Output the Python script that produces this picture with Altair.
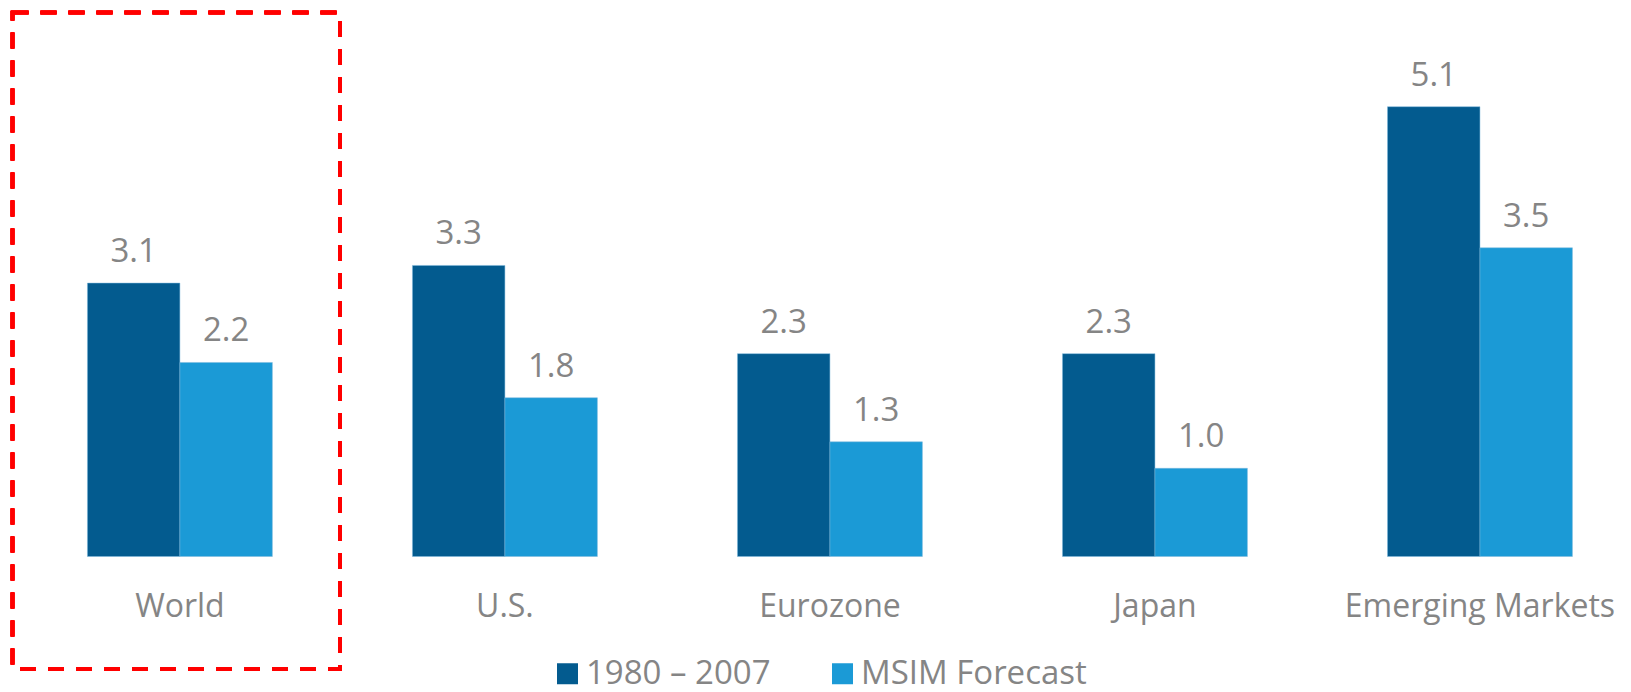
import altair as alt
import pandas as pd

categories = ["World", "U.S.", "Eurozone", "Japan", "Emerging Markets"]
series_names = ["1980 – 2007", "MSIM Forecast"]
hist_values = [3.1, 3.3, 2.3, 2.3, 5.1]
forecast_values = [2.2, 1.8, 1.3, 1.0, 3.5]
colors = ["#035B8F", "#1B9AD6"]

rows = []
for c, h, f in zip(categories, hist_values, forecast_values):
    rows.append({"cat": c, "series": series_names[0], "value": h})
    rows.append({"cat": c, "series": series_names[1], "value": f})
df = pd.DataFrame(rows)

FONT = "Open Sans"
GRAY = "#858585"
FS = 32

x_enc = alt.X(
    "cat:N",
    sort=categories,
    scale=alt.Scale(paddingInner=0.431, paddingOuter=0.2, align=0.611),
    axis=alt.Axis(
        title=None, labelAngle=0, domain=False, ticks=False, grid=False,
        labelFont=FONT, labelFontSize=FS, labelColor=GRAY, labelLimit=0,
        labelBaseline="alphabetic", labelPadding=60,
    ),
)
xoff_enc = alt.XOffset("series:N", sort=series_names,
                       scale=alt.Scale(paddingInner=0, paddingOuter=0))
y_enc = alt.Y("value:Q", scale=alt.Scale(domain=[0, 6.219]), axis=None)

bars = alt.Chart(df).mark_bar(stroke="#7fb8dc", strokeWidth=0.5).encode(
    x=x_enc,
    xOffset=xoff_enc,
    y=y_enc,
    color=alt.Color(
        "series:N",
        sort=series_names,
        scale=alt.Scale(domain=series_names, range=colors),
        legend=alt.Legend(
            title=None, orient="none", legendX=543, legendY=649,
            direction="horizontal", symbolType="square", symbolSize=441,
            symbolStrokeWidth=0, labelFont=FONT, labelFontSize=33,
            labelColor=GRAY, labelOffset=2, columnPadding=55, padding=0,
            labelLimit=0,
        ),
    ),
)

labels = alt.Chart(df).mark_text(
    dy=-21, baseline="alphabetic", font=FONT, fontSize=33, color=GRAY
).encode(
    x=x_enc,
    xOffset=xoff_enc,
    y=y_enc,
    text=alt.Text("value:Q", format=".1f"),
)

box = alt.Chart(df).mark_rect(
    fill=None, filled=False, stroke="#FF0000", strokeWidth=3.5, strokeDash=[16, 12]
).encode(
    x=alt.value(4.5), x2=alt.value(332), y=alt.value(4.5), y2=alt.value(661)
)

chart = alt.layer(bars, labels, box).properties(
    width=1615,
    height=548.5,
    padding={"left": 0, "top": 0, "right": 0, "bottom": 140},
    autosize=alt.AutoSizeParams(type="none"),
).configure_view(stroke=None)

chart.save("out.html", embed_options={"renderer": "svg", "actions": False})
